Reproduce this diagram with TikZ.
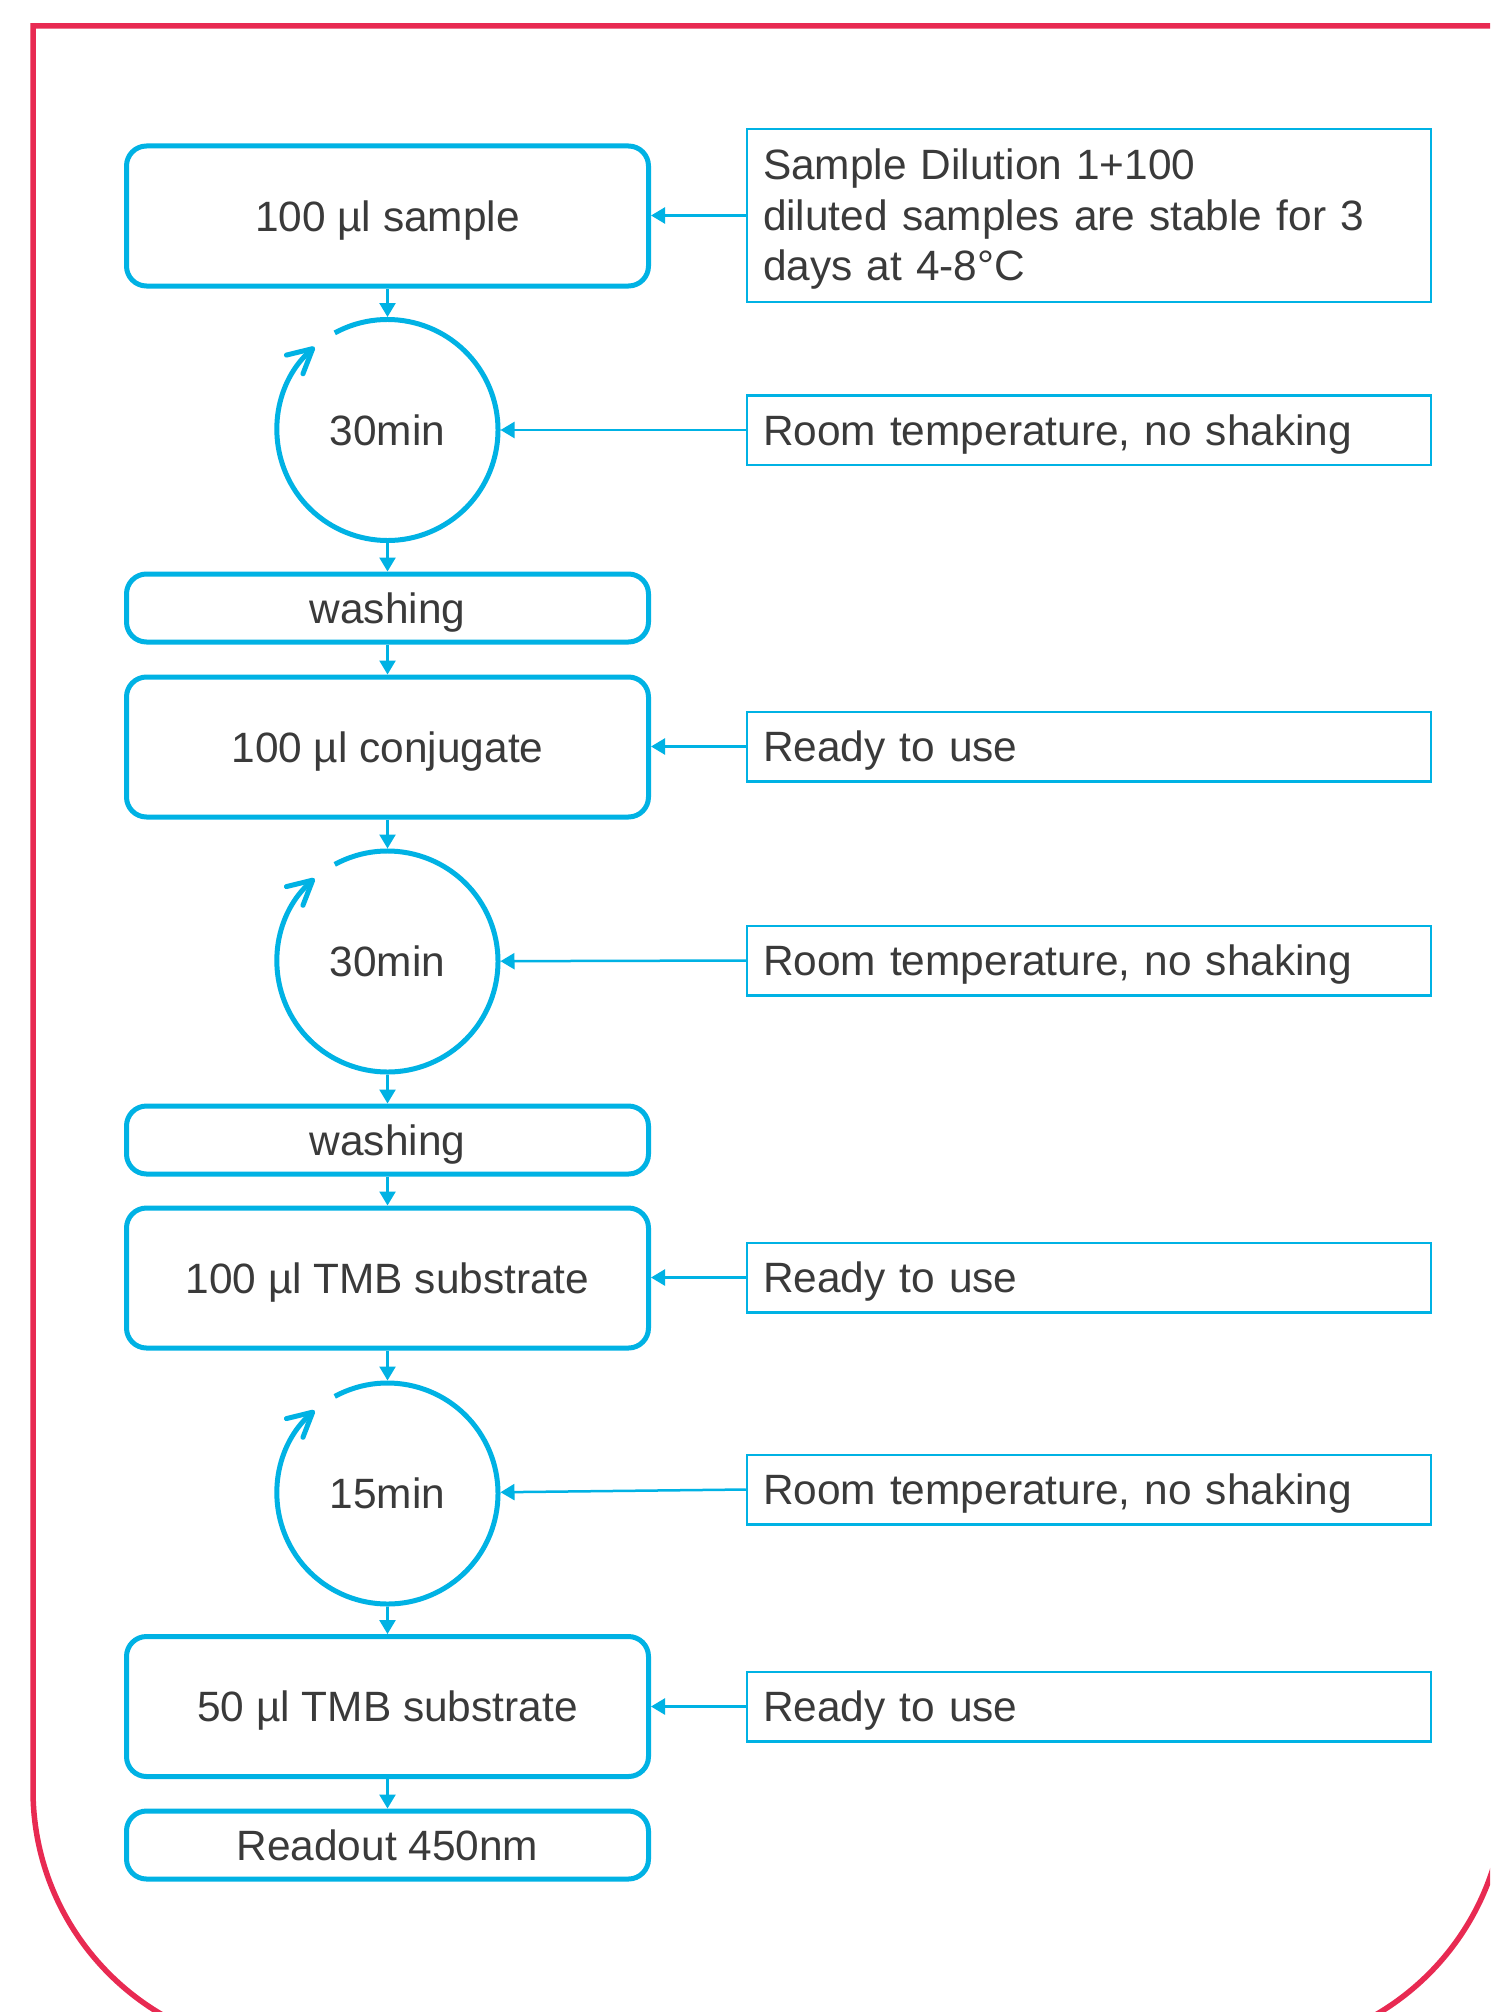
\documentclass[tikz,border=0pt]{standalone}
\usepackage{fontspec}
\setmainfont{Liberation Sans}
\usetikzlibrary{arrows.meta}
\definecolor{cy}{RGB}{0,178,228}
\definecolor{rd}{RGB}{232,42,82}
\definecolor{tx}{RGB}{58,58,58}
\begin{document}
\begin{tikzpicture}[x=0.5pt,y=-0.5pt,
  every node/.style={font=\fontsize{21.2}{25.25}\selectfont, text=tx},
  stepbox/.style={draw=cy, line width=2.5pt, rounded corners=10pt, rectangle,
    minimum width=261pt, minimum height=70pt, inner sep=0pt,
    text height=15.2pt, text depth=0pt},
  washbox/.style={stepbox, minimum height=34pt},
  timer/.style={circle, minimum size=110.5pt, inner sep=0pt, outer sep=1.25pt,
    text height=15.2pt, text depth=0pt},
  ring/.style={draw=cy, line width=2.5pt, -{Straight Barb[length=12pt,width=12.5pt,round]}},
  notebox/.style={draw=cy, line width=1.25pt, rectangle, minimum width=342pt,
    minimum height=34.75pt, inner xsep=8pt, inner ysep=0pt, text width=326pt,
    align=left, text height=15.2pt, text depth=0pt},
  conn/.style={draw=cy, line width=1.25pt, -{Triangle[length=7pt,width=8pt]}},
  redb/.style={draw=rd, line width=2.75pt}
]
\useasboundingbox (0,0) rectangle (1490,2012);
\fill[white] (0,0) rectangle (1490,2012);
\clip (0,0) rectangle (1490,2012);
\draw[redb] (1505,26) -- (33,26) -- (33,1790)
  arc[start angle=180, end angle=270, radius=130pt] -- (1245,2050)
  arc[start angle=270, end angle=360, radius=130pt] -- cycle;

% left column
\node[stepbox] (b1) at (387.5,216) {100 µl sample};
\node[timer] (c1) at (387.5,430) {30min};
\node[washbox] (w1) at (387.5,608) {washing};
\node[stepbox] (b2) at (387.5,747) {100 µl conjugate};
\node[timer] (c2) at (387.5,961.5) {30min};
\node[washbox] (w2) at (387.5,1140) {washing};
\node[stepbox] (b3) at (387.5,1278) {100 µl TMB substrate};
\node[timer] (c3) at (387.5,1493.5) {15min};
\node[stepbox] (b4) at (387.5,1706.5) {50 µl TMB substrate};
\node[washbox] (ro) at (387.5,1845) {Readout 450nm};

% timer rings
\foreach \c in {c1,c2,c3}{
  \draw[ring] ([shift={(118.5:55.25pt)}]\c.center)
    arc[start angle=118.5, end angle=-228.7, radius=55.25pt];
}

% right column
\node[notebox, minimum height=86.5pt, text height=19.5pt, text depth=55pt] (r0) at (1089,215.5)
  {Sample Dilution 1+100\\diluted samples are stable for 3\\days at 4-8°C};
\node[notebox] (r1) at (1089,430) {Room temperature, no shaking};
\node[notebox] (r2) at (1089,746.5) {Ready to use};
\node[notebox] (r3) at (1089,960.5) {Room temperature, no shaking};
\node[notebox] (r4) at (1089,1277.5) {Ready to use};
\node[notebox] (r5) at (1089,1489.5) {Room temperature, no shaking};
\node[notebox] (r6) at (1089,1706.5) {Ready to use};

% vertical flow
\draw[conn] (b1.south) -- (c1.north);
\draw[conn] (c1.south) -- (w1.north);
\draw[conn] (w1.south) -- (b2.north);
\draw[conn] (b2.south) -- (c2.north);
\draw[conn] (c2.south) -- (w2.north);
\draw[conn] (w2.south) -- (b3.north);
\draw[conn] (b3.south) -- (c3.north);
\draw[conn] (c3.south) -- (b4.north);
\draw[conn] (b4.south) -- (ro.north);

% notes to steps
\draw[conn] (r0.west) -- (b1.east |- r0.west);
\draw[conn] (r1.west) -- (c1);
\draw[conn] (r2.west) -- (b2.east |- r2.west);
\draw[conn] (r3.west) -- (c2);
\draw[conn] (r4.west) -- (b3.east |- r4.west);
\draw[conn] (r5.west) -- (c3);
\draw[conn] (r6.west) -- (b4.east |- r6.west);
\end{tikzpicture}
\end{document}
